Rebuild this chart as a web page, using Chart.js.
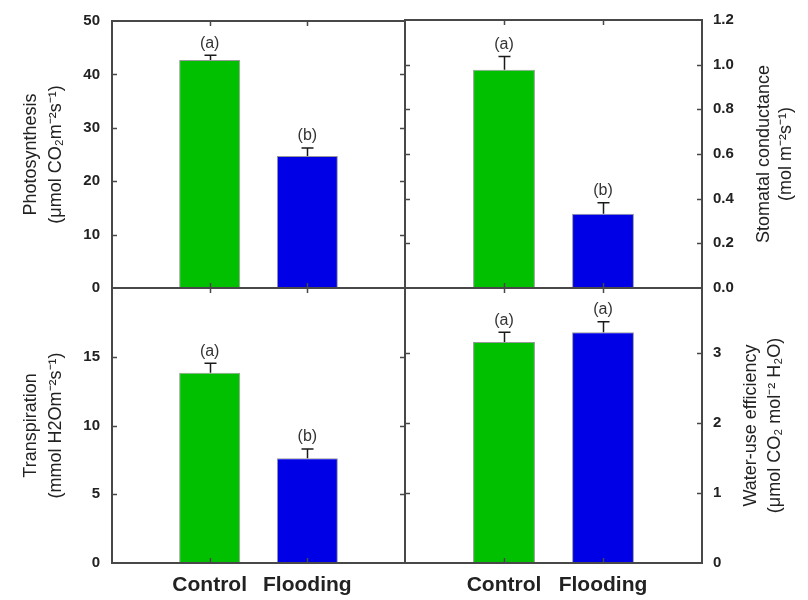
<!DOCTYPE html>
<html>
<head>
<meta charset="utf-8">
<title>Flooding gas exchange</title>
<script src="https://cdn.jsdelivr.net/npm/chart.js@4.4.1/dist/chart.umd.min.js"></script>
<style>
  html, body { margin: 0; padding: 0; background: #fff; }
  #wrap { position: relative; width: 808px; height: 600px; }
  #wrap canvas { position: absolute; left: 0; top: 0; }
</style>
</head>
<body>
<div id="wrap">
  <canvas id="photoChart" width="808" height="600"></canvas>
  <canvas id="condChart" width="808" height="600"></canvas>
  <canvas id="transpChart" width="808" height="600"></canvas>
  <canvas id="wueChart" width="808" height="600"></canvas>
</div>
<script>
/* Data */
const categories = ["Control", "Flooding"];
const barColors = ["#00c000", "#0000e6"];

const photosynthesis = [42.7, 24.7];
const photosynthesisErr = [0.9, 1.5];
const photosynthesisLetters = ["(a)", "(b)"];
const photosynthesisTicks = [0, 10, 20, 30, 40, 50];

const conductance = [0.977, 0.332];
const conductanceErr = [0.06, 0.05];
const conductanceLetters = ["(a)", "(b)"];
const conductanceTicks = [0, 0.2, 0.4, 0.6, 0.8, 1.0, 1.2];

const transpiration = [13.84, 7.61];
const transpirationErr = [0.68, 0.68];
const transpirationLetters = ["(a)", "(b)"];
const transpirationTicks = [0, 5, 10, 15];

const wue = [3.15, 3.29];
const wueErr = [0.14, 0.15];
const wueLetters = ["(a)", "(a)"];
const wueTicks = [0, 1, 2, 3];
/* Data */

Chart.defaults.font.family = "'Liberation Sans', Arial, sans-serif";

const frameColor = "#484848";
const textColor = "#222";

/**
 * Draws the panel frame and the short inward tick marks on all four sides.
 */
const framePlugin = {
  id: "panelFrame",
  afterDatasetsDraw(chart) {
    const { ctx, chartArea: a, scales } = chart;
    const len = 5;
    ctx.save();
    ctx.strokeStyle = frameColor;
    ctx.lineWidth = 1.5;
    ctx.beginPath();
    scales.y.ticks.forEach((t) => {
      if (t.value <= scales.y.min || t.value >= scales.y.max) return;
      const py = Math.round(scales.y.getPixelForValue(t.value)) + 0.5;
      ctx.moveTo(a.left, py);
      ctx.lineTo(a.left + len, py);
      ctx.moveTo(a.right, py);
      ctx.lineTo(a.right - len, py);
    });
    chart.data.labels.forEach((label, i) => {
      if (!label) return;
      const px = Math.round(scales.x.getPixelForValue(i)) + 0.5;
      ctx.moveTo(px, a.top);
      ctx.lineTo(px, a.top + len);
      ctx.moveTo(px, a.bottom);
      ctx.lineTo(px, a.bottom - len);
    });
    ctx.stroke();

    ctx.lineWidth = 2;
    ctx.strokeRect(a.left, a.top, a.right - a.left, a.bottom - a.top);
    ctx.restore();
  },
};

/**
 * Upper error bars plus the significance letters above them.
 */
const errorBarPlugin = {
  id: "errorBars",
  afterDatasetsDraw(chart) {
    const { ctx } = chart;
    const ds = chart.data.datasets[0];
    const meta = chart.getDatasetMeta(0);
    const y = chart.scales.y;

    ctx.save();
    meta.data.forEach((bar, i) => {
      const v = ds.data[i];
      if (v == null) return;
      const top = y.getPixelForValue(v + ds.errors[i]);
      const x = Math.round(bar.x) + 0.5;

      ctx.strokeStyle = "#1a1a1a";
      ctx.lineWidth = 1.5;
      ctx.beginPath();
      ctx.moveTo(x, bar.y);
      ctx.lineTo(x, top);
      ctx.moveTo(x - 6, top);
      ctx.lineTo(x + 6, top);
      ctx.stroke();

      ctx.fillStyle = "#333";
      ctx.font = "16px 'Liberation Sans', Arial, sans-serif";
      ctx.textAlign = "center";
      ctx.textBaseline = "bottom";
      ctx.fillText(ds.letters[i], bar.x, top - 4);
    });
    ctx.restore();
  },
};

/**
 * Axis title on the right hand side, read from bottom to top like the left ones.
 */
const sideTitlePlugin = {
  id: "sideTitle",
  afterDraw(chart, args, opts) {
    if (!opts || !opts.lines) return;
    const { ctx, chartArea: a } = chart;
    const cy = (a.top + a.bottom) / 2;
    ctx.save();
    ctx.fillStyle = textColor;
    ctx.font = "18px 'Liberation Sans', Arial, sans-serif";
    ctx.textAlign = "center";
    ctx.textBaseline = "middle";
    opts.lines.forEach((line, i) => {
      ctx.save();
      ctx.translate(a.right + opts.offsets[i], cy);
      ctx.rotate(-Math.PI / 2);
      ctx.fillText(line, 0, 0);
      ctx.restore();
    });
    ctx.restore();
  },
};

function buildPanel(canvasId, cfg) {
  const labels = [""].concat(categories, [""]);
  const isLeft = cfg.side === "left";

  return new Chart(document.getElementById(canvasId), {
    type: "bar",
    data: {
      labels: labels,
      datasets: [
        {
          data: [null].concat(cfg.values, [null]),
          errors: [null].concat(cfg.errors, [null]),
          letters: [null].concat(cfg.letters, [null]),
          backgroundColor: ["#fff"].concat(barColors, ["#fff"]),
          borderColor: "rgba(0, 0, 0, 0.4)",
          borderWidth: 1,
          barPercentage: 0.625,
          categoryPercentage: 1,
        },
      ],
    },
    options: {
      responsive: false,
      animation: false,
      events: [],
      layout: { padding: cfg.padding },
      plugins: {
        legend: { display: false },
        tooltip: { enabled: false },
        sideTitle: cfg.sideTitle || {},
      },
      scales: {
        x: {
          display: cfg.showCategories,
          offset: false,
          grid: { display: false, drawTicks: false },
          border: { display: false },
          afterFit: (scale) => {
            scale.height = cfg.showCategories ? 37 : 0;
          },
          ticks: {
            autoSkip: false,
            maxRotation: 0,
            padding: 10,
            color: textColor,
            font: { size: 21, weight: "bold" },
          },
        },
        y: {
          position: cfg.side,
          min: 0,
          max: cfg.max,
          grid: { display: false, drawTicks: false },
          border: { display: false },
          afterBuildTicks: (scale) => {
            scale.ticks = cfg.ticks.map((v) => ({ value: v }));
          },
          afterFit: (scale) => {
            scale.width = isLeft ? 112 : 106;
          },
          ticks: {
            padding: isLeft ? 12 : 11,
            color: textColor,
            font: { size: 15, weight: "bold" },
            callback: cfg.format || ((v) => v),
          },
          title: {
            display: isLeft,
            text: cfg.title,
            color: textColor,
            font: { size: 18, lineHeight: 1.4 },
            padding: { top: 18, bottom: 0 },
          },
        },
      },
    },
    plugins: [framePlugin, errorBarPlugin, sideTitlePlugin],
  });
}

buildPanel("photoChart", {
  values: photosynthesis,
  errors: photosynthesisErr,
  letters: photosynthesisLetters,
  ticks: photosynthesisTicks,
  max: 50,
  side: "left",
  showCategories: false,
  title: ["Photosynthesis", "(\u03bcmol CO\u2082m\u207b\u00b2s\u207b\u00b9)"],
  padding: { left: 0, right: 403, top: 13, bottom: 312 },
});

buildPanel("condChart", {
  values: conductance,
  errors: conductanceErr,
  letters: conductanceLetters,
  ticks: conductanceTicks,
  max: 1.2,
  side: "right",
  showCategories: false,
  format: (v) => v.toFixed(1),
  sideTitle: {
    lines: ["Stomatal conductance", "(mol m\u207b\u00b2s\u207b\u00b9)"],
    offsets: [62, 84],
  },
  padding: { left: 405, right: 0, top: 13, bottom: 312 },
});

buildPanel("transpChart", {
  values: transpiration,
  errors: transpirationErr,
  letters: transpirationLetters,
  ticks: transpirationTicks,
  max: 20,
  side: "left",
  showCategories: true,
  title: ["Transpiration", "(mmol H2Om\u207b\u00b2s\u207b\u00b9)"],
  padding: { left: 0, right: 403, top: 288, bottom: 0 },
});

buildPanel("wueChart", {
  values: wue,
  errors: wueErr,
  letters: wueLetters,
  ticks: wueTicks,
  max: 3.92,
  side: "right",
  showCategories: true,
  sideTitle: {
    lines: ["Water-use efficiency", "(\u03bcmol CO\u2082 mol\u207b\u00b2 H\u2082O)"],
    offsets: [49, 73],
  },
  padding: { left: 405, right: 0, top: 288, bottom: 0 },
});
</script>
</body>
</html>
